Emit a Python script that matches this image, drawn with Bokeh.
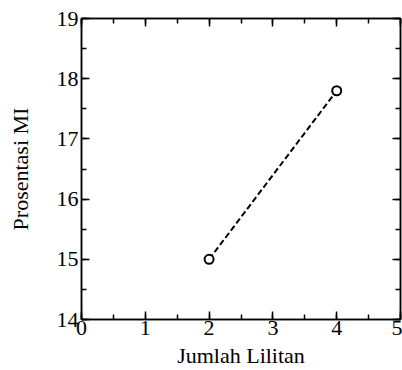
from bokeh.plotting import figure
from bokeh.models import LinearAxis, Range1d, CustomJSTickFormatter
from bokeh.embed import file_html
from bokeh.resources import INLINE

# data
lilitan = [2, 4]
prosentasi_mi = [15.0, 17.8]
x_label = "Jumlah Lilitan"
y_label = "Prosentasi MI"

FONT = "Liberation Serif"
FS = "22px"

p = figure(width=402, height=370, output_backend="svg", toolbar_location=None,
           x_range=Range1d(0, 5), y_range=Range1d(14, 19),
           x_axis_label=x_label, y_axis_label=y_label)
p.min_border_left = 81
p.min_border_right = 2
p.min_border_top = 18
p.min_border_bottom = 0
p.xgrid.visible = False
p.ygrid.visible = False
p.outline_line_color = "black"
p.outline_line_width = 1.5
p.background_fill_color = "white"
p.border_fill_color = "white"

p.line(lilitan, prosentasi_mi, line_color="black", line_width=2, line_dash="6 3")
p.scatter(lilitan, prosentasi_mi, marker="circle", size=9, fill_color="white",
          line_color="black", line_width=2)

def style(ax, labels=True):
    ax.ticker.num_minor_ticks = 2
    ax.major_tick_in = 8
    ax.major_tick_out = 0
    ax.minor_tick_in = 5
    ax.minor_tick_out = 0
    ax.axis_line_color = "black"
    ax.axis_line_width = 1.5
    ax.major_tick_line_color = "black"
    ax.major_tick_line_width = 1.5
    ax.minor_tick_line_color = "black"
    ax.minor_tick_line_width = 1.5
    ax.major_label_text_font = FONT
    ax.major_label_text_color = "black"
    ax.axis_label_text_font = FONT
    ax.axis_label_text_font_style = "normal"
    ax.axis_label_text_color = "black"
    ax.axis_label_text_font_size = FS
    ax.major_label_text_font_size = FS
    if not labels:
        ax.formatter = CustomJSTickFormatter(code="return '';")
        ax.major_label_standoff = 0

xa = p.xaxis[0]
ya = p.yaxis[0]
style(xa)
style(ya)
xa.major_label_standoff = 1
xa.axis_label_standoff = 5
ya.major_label_standoff = 3
ya.axis_label_standoff = 21

top = LinearAxis()
right = LinearAxis()
p.add_layout(top, "above")
p.add_layout(right, "right")
style(top, labels=False)
style(right, labels=False)

open("out.html", "w").write(file_html(p, INLINE))
